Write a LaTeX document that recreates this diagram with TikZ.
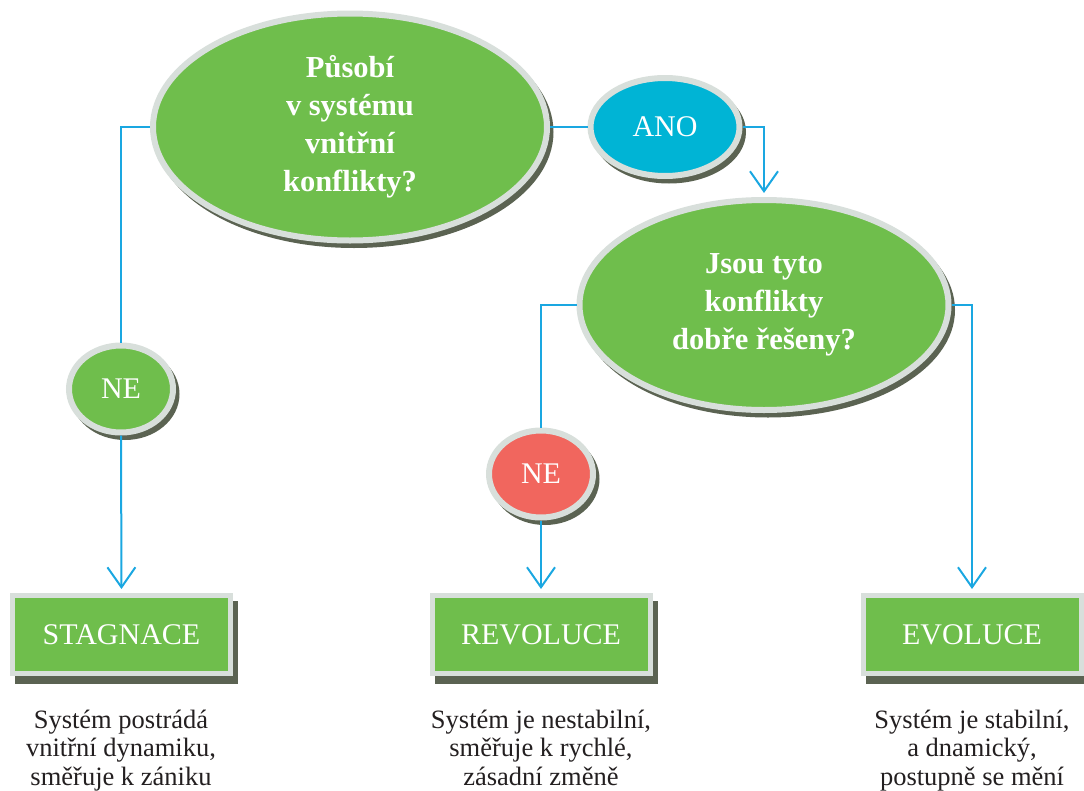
\documentclass[tikz,border=0pt]{standalone}
\usepackage{fontspec}
\setmainfont{Liberation Serif}
\usetikzlibrary{shapes.geometric,arrows.meta,shadows}
\definecolor{gfill}{HTML}{6FBE4C}
\definecolor{bfill}{HTML}{00B4D5}
\definecolor{rfill}{HTML}{F1665E}
\definecolor{linec}{HTML}{1AA7E1}
\definecolor{bordc}{HTML}{D8DFDB}
\definecolor{shadc}{HTML}{5B6352}
\definecolor{txtc}{HTML}{231F20}
\begin{document}
\begin{tikzpicture}[x=1pt,y=-1pt,
  shad/.style={general shadow={fill=shadc,draw=shadc,line width=5pt,shadow xshift=4pt,shadow yshift=-5pt}},
  bshad/.style={general shadow={fill=shadc,draw=shadc,line width=5pt,shadow xshift=5pt,shadow yshift=-8pt}},
  oval/.style={ellipse,shad,fill=#1,draw=bordc,line width=6pt,inner sep=0pt,text=white,align=center},
  qtext/.style={font=\bfseries\fontsize{30.5}{38}\selectfont},
  ltext/.style={font=\fontsize{30}{36}\selectfont},
  boxn/.style={rectangle,bshad,fill=gfill,draw=bordc,line width=5pt,minimum width=218pt,minimum height=78pt,inner sep=0pt,text=white,font=\fontsize{30}{36}\selectfont},
  desc/.style={align=center,text=txtc,inner sep=0pt,font=\fontsize{26.5}{28.5}\selectfont},
  conn/.style={draw=linec,line width=2pt},
  arr/.style={conn,-{Straight Barb[length=20pt,width=28pt,line width=2pt]},shorten >=4pt}]
\useasboundingbox (0,0) rectangle (1084,790);
\node[oval=gfill,qtext,minimum width=394pt,minimum height=227pt] (e1) at (350,127) {Působí\\v systému\\vnitřní\\konflikty?};
\node[oval=bfill,ltext,minimum width=149pt,minimum height=98pt] (ano) at (665,127) {ANO};
\node[oval=gfill,qtext,minimum width=369pt,minimum height=210pt] (e2) at (764,305) {Jsou tyto\\konflikty\\dobře řešeny?};
\node[oval=gfill,ltext,minimum width=104pt,minimum height=87pt] (ne1) at (121,389) {NE};
\node[oval=rfill,ltext,minimum width=104pt,minimum height=87pt] (ne2) at (541,474) {NE};
\node[boxn] (stag) at (121.5,634.5) {STAGNACE};
\node[boxn] (revo) at (541,634.5) {REVOLUCE};
\node[boxn] (evo) at (972,634.5) {EVOLUCE};
\node[desc,anchor=base] (d1) at (121,785) {Systém postrádá\\vnitřní dynamiku,\\směřuje k zániku};
\node[desc,anchor=base] (d2) at (541,785) {Systém je nestabilní,\\směřuje k rychlé,\\zásadní změně};
\node[desc,anchor=base] (d3) at (972,785) {Systém je stabilní,\\a dnamický,\\postupně se mění};
\draw[conn] (e1.east) -- (ano.west);
\draw[arr] (ano.east) -| (e2.north);
\draw[conn] (e1.west) -| (ne1.north);
\draw[arr] (ne1.south) -- (stag.north);
\draw[conn] (e2.west) -| (ne2.north);
\draw[arr] (ne2.south) -- (revo.north);
\draw[arr] (e2.east) -| (evo.north);
\end{tikzpicture}
\end{document}
